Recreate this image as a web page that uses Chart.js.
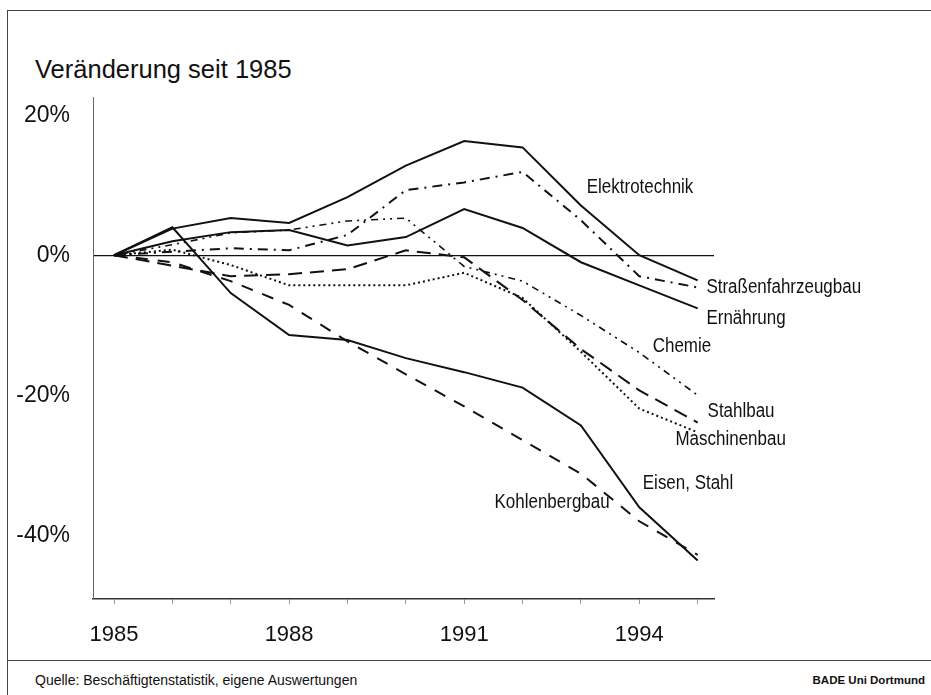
<!DOCTYPE html>
<html>
<head>
<meta charset="utf-8">
<title>Veränderung seit 1985</title>
<script src="https://cdn.jsdelivr.net/npm/chart.js@4.4.0/dist/chart.umd.min.js"></script>
<style>
  body { margin: 0; background: #fff; width: 931px; height: 695px; overflow: hidden;
         font-family: "Liberation Sans", Arial, sans-serif; color: #111; }
  #frame { position: absolute; left: 7px; top: 10px; width: 940px; height: 700px;
           border-left: 1px solid #444; border-top: 1px solid #444; }
  #sep { position: absolute; left: 7px; top: 660px; width: 940px; border-top: 1px solid #444; }
  #title { position: absolute; left: 35px; top: 55px; font-size: 25.5px; }
  #src { position: absolute; left: 35px; top: 672px; font-size: 14px; }
  #bade { position: absolute; right: 6px; top: 674px; font-size: 11.5px; font-weight: bold; }
  #wrap { position: absolute; left: 0; top: 0; width: 931px; height: 660px; }
</style>
</head>
<body>
<div id="frame"></div>
<div id="sep"></div>
<div id="title">Veränderung seit 1985</div>
<div id="wrap"><canvas id="chart"></canvas></div>
<div id="src">Quelle: Beschäftigtenstatistik, eigene Auswertungen</div>
<div id="bade">BADE Uni Dortmund</div>
<script>
// Beschäftigung nach Branchen, Veränderung gegenüber 1985 in %
var years = [1985, 1986, 1987, 1988, 1989, 1990, 1991, 1992, 1993, 1994, 1995];
var yearLabels = [1985, 1988, 1991, 1994];
var pctTicks = [-40, -20, 0, 20];

var elektrotechnik      = [0, 3.8, 5.3, 4.6, 8.3, 12.8, 16.3, 15.4, 7.1, 0.0, -3.6];
var strassenfahrzeugbau = [0, 0.5, 1.0, 0.7, 2.9, 9.3, 10.4, 11.9, 5.0, -3.0, -4.6];
var ernaehrung          = [0, 2.0, 3.3, 3.6, 1.4, 2.6, 6.6, 3.9, -1.0, -4.3, -7.6];
var chemie              = [0, 1.5, 3.2, 3.6, 4.9, 5.3, -1.6, -3.7, -8.6, -13.9, -20.0];
var stahlbau            = [0, -1.5, -3.0, -2.7, -2.0, 0.7, -0.3, -6.4, -13.4, -19.3, -23.9];
var maschinenbau        = [0, 0.8, -1.4, -4.3, -4.3, -4.3, -2.5, -6.1, -13.8, -21.9, -25.3];
var eisenStahl          = [0, 4.0, -5.4, -11.4, -12.1, -14.7, -16.7, -18.9, -24.3, -36.0, -43.6];
var kohlenbergbau       = [0, -1.0, -3.7, -7.1, -12.3, -17.0, -21.6, -26.4, -31.2, -38.0, -42.8];

// Beschriftungen an den Linien (Jahr, Prozent)
var seriesNames = ["Elektrotechnik", "Straßenfahrzeugbau", "Ernährung", "Chemie",
                   "Stahlbau", "Maschinenbau", "Eisen, Stahl", "Kohlenbergbau"];
var nameYear = [1993.1, 1995.15, 1995.15, 1994.23, 1995.17, 1994.62, 1994.06, 1991.52];
var namePct  = [9.6, -4.6, -9.1, -13.1, -22.3, -26.3, -32.6, -35.4];

function toPoints(values) {
    return values.map(function(v, i) { return {x: years[i], y: v}; });
}

function line(values, dash, width) {
    return {
        data: toPoints(values),
        borderColor: '#111',
        borderWidth: width || 2,
        borderDash: dash,
        pointRadius: 0,
        fill: false,
        tension: 0
    };
}

var datasets = [
    line(elektrotechnik, []),
    line(strassenfahrzeugbau, [10, 6, 2, 6]),
    line(ernaehrung, []),
    line(chemie, [7, 5, 2, 5, 2, 5], 1.6),
    line(stahlbau, [14, 8]),
    line(maschinenbau, [2, 3]),
    line(eisenStahl, []),
    line(kohlenbergbau, [12, 10])
];

// schmale Schrift: Liberation Sans, horizontal gestaucht
var labelStretch = 0.87;

var seriesLabels = {
    id: 'seriesLabels',
    afterDatasetsDraw: function(chart) {
        var ctx = chart.ctx;
        var xs = chart.scales.x, ys = chart.scales.y;
        ctx.save();
        ctx.fillStyle = '#111';
        ctx.font = '19.5px "Liberation Sans", Arial, sans-serif';
        ctx.textAlign = 'left';
        ctx.textBaseline = 'middle';
        for (var i = 0; i < seriesNames.length; i++) {
            var px = xs.getPixelForValue(nameYear[i]);
            var py = ys.getPixelForValue(namePct[i]);
            ctx.save();
            ctx.translate(px, py);
            ctx.scale(labelStretch, 1);
            ctx.fillText(seriesNames[i], 0, 0);
            ctx.restore();
        }
        ctx.restore();
    }
};

var chart = new Chart(document.getElementById('chart'), {
    type: 'line',
    data: {datasets: datasets},
    options: {
        responsive: true,
        maintainAspectRatio: false,
        animation: false,
        layout: {padding: {top: 97, right: 217, left: 0, bottom: 0}},
        plugins: {legend: {display: false}, tooltip: {enabled: false}},
        scales: {
            x: {
                type: 'linear',
                min: 1984.64,
                max: 1995.28,
                afterBuildTicks: function(s) { s.ticks = years.map(function(y) { return {value: y}; }); },
                afterFit: function(s) { s.height = 61; },
                border: {color: '#333', width: 1.5},
                grid: {drawOnChartArea: false, tickLength: 5, color: '#999'},
                ticks: {
                    autoSkip: false,
                    maxRotation: 0,
                    padding: 18,
                    color: '#111',
                    font: {family: '"Liberation Sans", Arial, sans-serif', size: 22},
                    callback: function(v) { return yearLabels.indexOf(v) >= 0 ? String(v) : ''; }
                }
            },
            y: {
                min: -49.1,
                max: 22.6,
                afterBuildTicks: function(s) { s.ticks = pctTicks.map(function(v) { return {value: v}; }); },
                afterFit: function(s) { s.width = 93; },
                border: {color: '#666', width: 1},
                grid: {
                    drawTicks: false,
                    color: function(c) { return c.tick && c.tick.value === 0 ? '#111' : 'rgba(0,0,0,0)'; },
                    lineWidth: 1.2
                },
                ticks: {
                    padding: 23,
                    color: '#111',
                    font: {family: '"Liberation Sans", Arial, sans-serif', size: 23},
                    callback: function(v) { return v + '%'; }
                }
            }
        }
    },
    plugins: [seriesLabels]
});
</script>
</body>
</html>
